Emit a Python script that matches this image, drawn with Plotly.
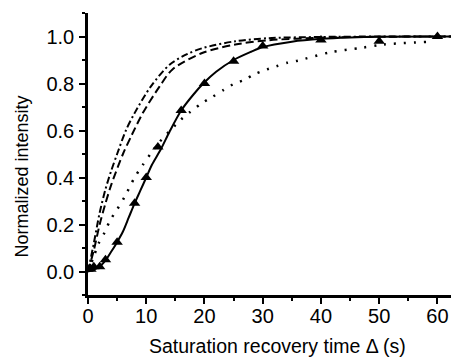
import plotly.graph_objects as go

# Measured data (triangles)
t_data = [0, 0.5, 1, 2, 3, 5, 8, 10, 12, 16, 20, 25, 30, 40, 50, 60]
v_data = [0.01, 0.01, 0.02, 0.02, 0.05, 0.125, 0.29, 0.40, 0.53, 0.685, 0.80, 0.895, 0.96, 0.985, 0.98, 1.0]

# Solid fit curve
t_solid = [0, 1, 2, 3, 4, 5, 6, 7, 8, 9, 10, 11, 12.5, 14, 16, 18, 20, 22, 25, 28, 30, 35, 40, 45, 50, 63.7]
v_solid = [0.0, 0.008, 0.02, 0.047, 0.085, 0.125, 0.17, 0.23, 0.29, 0.345, 0.40, 0.455, 0.52, 0.595, 0.685, 0.75,
           0.805, 0.85, 0.90, 0.935, 0.955, 0.978, 0.99, 0.996, 0.999, 1.0]

# Dash-dot curve
t_dashdot = [0, 1, 2, 3, 4, 5, 6.5, 8, 10.8, 14, 17, 19.6, 25.3, 31, 40, 50, 63.7]
v_dashdot = [0, 0.12, 0.25, 0.35, 0.43, 0.50, 0.60, 0.674, 0.788, 0.88, 0.925, 0.95, 0.98, 0.993, 0.998, 1.0, 1.0]

# Dashed curve
t_dash = [0, 1, 2, 3, 4, 6, 7.5, 9.4, 12.3, 14.5, 19.6, 25.3, 31, 40, 50, 63.7]
v_dash = [0, 0.09, 0.2, 0.29, 0.37, 0.5, 0.58, 0.674, 0.788, 0.86, 0.93, 0.966, 0.984, 0.995, 0.999, 1.0]

# Dotted curve
t_dot = [0, 0.95, 1.8, 2.9, 3.8, 4.9, 6.3, 8, 9.4, 10.8, 12.1, 15.9, 17.6, 19.6, 21.3, 23.3, 25, 26.9, 28.6,
         30.6, 32.3, 34.2, 36, 41.6, 47, 50.7, 58.3]
v_dot = [0, 0.061, 0.118, 0.168, 0.218, 0.26, 0.318, 0.40, 0.453, 0.503, 0.546, 0.645, 0.68, 0.717, 0.742, 0.773,
         0.798, 0.816, 0.84, 0.859, 0.873, 0.888, 0.897, 0.933, 0.952, 0.966, 0.977]

x_ticks = [0, 10, 20, 30, 40, 50, 60]
y_ticks = [0.0, 0.2, 0.4, 0.6, 0.8, 1.0]

fig = go.Figure()
fig.add_trace(go.Scatter(x=t_dashdot, y=v_dashdot, mode="lines", line=dict(color="black", width=2,
              dash="7px,3px,2px,3px", shape="spline", smoothing=0.8), showlegend=False))
fig.add_trace(go.Scatter(x=t_dash, y=v_dash, mode="lines", line=dict(color="black", width=2,
              dash="8px,4px", shape="spline", smoothing=0.8), showlegend=False))
fig.add_trace(go.Scatter(x=t_dot, y=v_dot, mode="lines", line=dict(color="black", width=2.5,
              dash="2px,8px", shape="spline", smoothing=0.8), showlegend=False))
fig.add_trace(go.Scatter(x=t_solid, y=v_solid, mode="lines", line=dict(color="black", width=2,
              shape="spline", smoothing=0.8), showlegend=False))
fig.add_trace(go.Scatter(x=t_data, y=v_data, mode="markers", marker=dict(symbol="triangle-up", size=10,
              color="black"), showlegend=False))

font = "Liberation Sans, Arial, sans-serif"
# The page body has an 8px default margin, so the figure is 8px smaller on each axis.
fig.update_layout(
    width=451, height=349,
    margin=dict(l=80, r=0, t=5, b=62),
    plot_bgcolor="white", paper_bgcolor="white",
    font=dict(family=font, color="black"),
    annotations=[
        dict(text="Saturation recovery time Δ (s)", xref="paper", yref="paper", x=0.512, y=0,
             xanchor="center", yanchor="middle", yshift=-51, showarrow=False,
             font=dict(size=19.5, family=font, color="black")),
        dict(text="Normalized intensity", xref="paper", yref="paper", x=0, y=0.42,
             xanchor="center", yanchor="middle", xshift=-66, textangle=-90, showarrow=False,
             font=dict(size=18, family=font, color="black")),
    ],
)
fig.update_xaxes(
    range=[0, 63.7], tickvals=x_ticks, ticktext=[str(v) for v in x_ticks],
    ticks="outside", ticklen=6, tickwidth=2, tickcolor="black", ticklabelstandoff=-5,
    minor=dict(dtick=5, tick0=0, ticks="outside", ticklen=3.5, tickwidth=2, tickcolor="black", showgrid=False),
    showline=True, linecolor="black", linewidth=2.5, showgrid=False, zeroline=False,
    tickfont=dict(size=20, family=font), mirror=False, automargin=False,
)
fig.update_yaxes(
    range=[-0.1, 1.1], tickvals=y_ticks, ticktext=["%.1f" % v for v in y_ticks],
    ticks="outside", ticklen=6, tickwidth=2, tickcolor="black", ticklabelstandoff=1,
    minor=dict(dtick=0.1, tick0=0, ticks="outside", ticklen=3.5, tickwidth=2, tickcolor="black", showgrid=False),
    showline=True, linecolor="black", linewidth=2.5, showgrid=False, zeroline=False,
    tickfont=dict(size=20, family=font), mirror=False, automargin=False,
)
fig.write_html("out.html")
